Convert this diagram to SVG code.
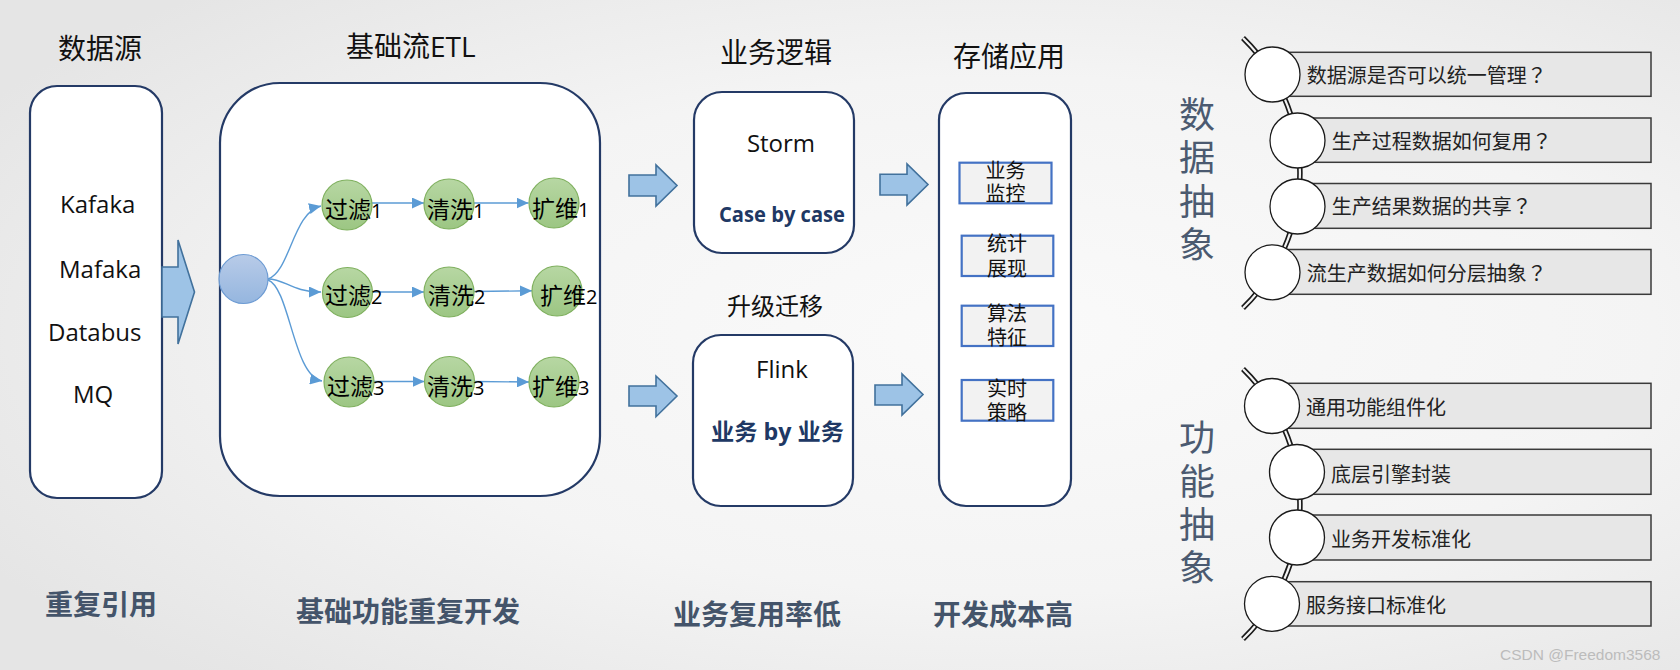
<svg xmlns="http://www.w3.org/2000/svg" width="1680" height="670" viewBox="0 0 1680 670">
<defs>
  <radialGradient id="bg" cx="0.6" cy="0.5" r="0.7">
    <stop offset="0" stop-color="#fafafa"/>
    <stop offset="0.55" stop-color="#f4f4f4"/>
    <stop offset="1" stop-color="#e5e5e5"/>
  </radialGradient>
  <linearGradient id="green" x1="0" y1="0" x2="0" y2="1">
    <stop offset="0" stop-color="#b7d7a3"/>
    <stop offset="1" stop-color="#9cc683"/>
  </linearGradient>
  <linearGradient id="blue" x1="0" y1="0" x2="0" y2="1">
    <stop offset="0" stop-color="#b8cbe8"/>
    <stop offset="1" stop-color="#95b6df"/>
  </linearGradient>
  <marker id="ah" markerUnits="userSpaceOnUse" markerWidth="13" markerHeight="11" refX="12" refY="5.5" orient="auto">
    <path d="M0,0 L12,5.5 L0,11 z" fill="#5b9bd5"/>
  </marker>
  <style>
    .box{fill:#fff;stroke:#243a66;stroke-width:2.2}
    .title{font-family:"Open Sans","Noto Sans CJK SC",sans-serif;font-size:28px;fill:#111}
    .lat{font-family:"Open Sans","Noto Sans CJK SC",sans-serif;font-size:24px;fill:#111}
    .blue{font-family:"Open Sans","Noto Sans CJK SC",sans-serif;font-weight:bold;fill:#203864}
    .foot{font-family:"Noto Sans CJK SC",sans-serif;font-weight:bold;font-size:28px;fill:#44546a}
    .blk{fill:#9dc3e6;stroke:#41719c;stroke-width:1.6}
    .conn{fill:none;stroke:#5b9bd5;stroke-width:1.4}
    .gn{fill:url(#green);stroke:#7fb05e;stroke-width:1.2}
    .nl{font-family:"Noto Sans CJK SC",sans-serif;font-size:23px;fill:#000}
    .nd{font-family:"Open Sans",sans-serif;font-size:20px}
    .sbox{fill:#f2f2f2;stroke:#4472c4;stroke-width:2.2}
    .st{font-family:"Noto Sans CJK SC",sans-serif;font-size:20px;fill:#111;text-anchor:middle}
    .vt{font-family:"Noto Sans CJK SC",sans-serif;font-size:36px;fill:#4b5a70;writing-mode:vertical-rl}
    .bar{fill:#e7e7e7;stroke:#3a3a3a;stroke-width:1.5}
    .ring{fill:#fff;stroke:#1a1a1a;stroke-width:1.3}
    .bt{font-family:"Noto Sans CJK SC",sans-serif;font-size:20px;fill:#222}
    .q{font-family:"Noto Sans CJK JP",sans-serif}
    .sp1{fill:none;stroke:#1a1a1a;stroke-width:5.5}
    .sp2{fill:none;stroke:#f4f4f4;stroke-width:2.2}
  </style>
</defs>
<rect x="0" y="0" width="1680" height="670" fill="url(#bg)"/>

<g id="titles">
  <text class="title" x="58" y="59">数据源</text>
  <text class="title" x="346" y="57">基础流ETL</text>
  <text class="title" x="720" y="63">业务逻辑</text>
  <text class="title" x="953" y="67">存储应用</text>
  <text class="title" x="727" y="315" style="font-size:24px">升级迁移</text>
</g>

<g id="datasource">
  <rect class="box" x="30" y="86" width="132" height="412" rx="27"/>
  <text class="lat" x="60" y="213">Kafaka</text>
  <text class="lat" x="59" y="278">Mafaka</text>
  <text class="lat" x="48" y="340.5">Databus</text>
  <text class="lat" x="73" y="402.5">MQ</text>
</g>

<g id="etl">
  <rect class="box" x="220" y="83" width="380" height="413" rx="60"/>
</g>

<g id="storm">
  <rect class="box" x="694" y="92" width="160" height="161" rx="28"/>
  <text class="lat" x="781" y="151.5" text-anchor="middle">Storm</text>
  <text class="blue" x="719" y="222" font-size="21" textLength="126" lengthAdjust="spacingAndGlyphs">Case by case</text>
</g>

<g id="flink">
  <rect class="box" x="693" y="335" width="160" height="171" rx="28"/>
  <text class="lat" x="782" y="378" text-anchor="middle">Flink</text>
  <text class="blue" x="711" y="440" font-size="23" textLength="133" lengthAdjust="spacingAndGlyphs">业务 by 业务</text>
</g>

<g id="storage">
  <rect class="box" x="939" y="93" width="132" height="413" rx="27"/>
  <g id="s1">
    <rect class="sbox" x="959.5" y="162.7" width="92" height="40.6"/>
    <text class="st"><tspan x="1005.5" y="178">业务</tspan><tspan x="1005.5" y="201">监控</tspan></text>
  </g>
  <g id="s2">
    <rect class="sbox" x="961.7" y="235.7" width="91.6" height="40.3"/>
    <text class="st"><tspan x="1007" y="251">统计</tspan><tspan x="1007" y="276">展现</tspan></text>
  </g>
  <g id="s3">
    <rect class="sbox" x="961.7" y="305.7" width="91.6" height="40.3"/>
    <text class="st"><tspan x="1007" y="321">算法</tspan><tspan x="1007" y="344.5">特征</tspan></text>
  </g>
  <g id="s4">
    <rect class="sbox" x="961.7" y="380" width="91.6" height="40.7"/>
    <text class="st"><tspan x="1007" y="396">实时</tspan><tspan x="1007" y="419.5">策略</tspan></text>
  </g>
</g>

<g id="footers">
  <text class="foot" x="45" y="615">重复引用</text>
  <text class="foot" x="296" y="622">基础功能重复开发</text>
  <text class="foot" x="673" y="625">业务复用率低</text>
  <text class="foot" x="933" y="625">开发成本高</text>
</g>

<g id="data-abstraction">
  <text class="vt" x="1197" y="96" letter-spacing="7.5">数据抽象</text>
  <path class="sp1" d="M1243,38 A188.5,188.5 0 0 1 1243,308"/>
  <path class="sp2" d="M1243,38 A188.5,188.5 0 0 1 1243,308"/>
  <g id="q1">
    <rect class="bar" x="1272" y="52.3" width="379" height="44"/>
    <circle class="ring" cx="1272.5" cy="74.5" r="27.5"/>
    <text class="bt" x="1306.7" y="83.3">数据源是否可以统一管理<tspan class="q">？</tspan></text>
  </g>
  <g id="q2">
    <rect class="bar" x="1297" y="118" width="354" height="44.3"/>
    <circle class="ring" cx="1297.5" cy="140.5" r="27.5"/>
    <text class="bt" x="1331.7" y="149">生产过程数据如何复用<tspan class="q">？</tspan></text>
  </g>
  <g id="q3">
    <rect class="bar" x="1297" y="183.5" width="354" height="44.8"/>
    <circle class="ring" cx="1297.5" cy="206.5" r="27.5"/>
    <text class="bt" x="1331.7" y="214.3">生产结果数据的共享<tspan class="q">？</tspan></text>
  </g>
  <g id="q4">
    <rect class="bar" x="1272" y="249.5" width="379" height="44.8"/>
    <circle class="ring" cx="1272.5" cy="272.3" r="27.5"/>
    <text class="bt" x="1306.7" y="280.7">流生产数据如何分层抽象<tspan class="q">？</tspan></text>
  </g>
</g>

<g id="function-abstraction">
  <text class="vt" x="1197" y="419.6" letter-spacing="7.3">功能抽象</text>
  <path class="sp1" d="M1243,369 A188.5,188.5 0 0 1 1243,639"/>
  <path class="sp2" d="M1243,369 A188.5,188.5 0 0 1 1243,639"/>
  <g id="f1">
    <rect class="bar" x="1272" y="383.3" width="379" height="45"/>
    <circle class="ring" cx="1272" cy="406" r="27.5"/>
    <text class="bt" x="1306" y="415">通用功能组件化</text>
  </g>
  <g id="f2">
    <rect class="bar" x="1297" y="449.3" width="354" height="45"/>
    <circle class="ring" cx="1297" cy="472" r="27.5"/>
    <text class="bt" x="1331" y="481.7">底层引擎封装</text>
  </g>
  <g id="f3">
    <rect class="bar" x="1297" y="515" width="354" height="45"/>
    <circle class="ring" cx="1297" cy="537.5" r="27.5"/>
    <text class="bt" x="1331" y="546.7">业务开发标准化</text>
  </g>
  <g id="f4">
    <rect class="bar" x="1272" y="581.7" width="379" height="44.3"/>
    <circle class="ring" cx="1272" cy="603.8" r="27.5"/>
    <text class="bt" x="1306" y="613.3">服务接口标准化</text>
  </g>
</g>

<g id="connectors">
  <polygon class="blk" points="162,267 178,267 178,240 194.5,292 178,344 178,317 162,317"/>
  <polygon class="blk" points="629,175 656,175 656,165 677,185.5 656,206 656,196 629,196"/>
  <polygon class="blk" points="880,174.3 907,174.3 907,164 928,184.5 907,205 907,195 880,195"/>
  <polygon class="blk" points="629,386 656,386 656,376 677,396 656,416.7 656,406 629,406"/>
  <polygon class="blk" points="875,385 902,385 902,374 923,394.5 902,415 902,405 875,405"/>
  <path class="conn" marker-end="url(#ah)" d="M268,279 C290,272 293,212 321,206"/>
  <path class="conn" marker-end="url(#ah)" d="M268,279 C285,279 292,292 321,292"/>
  <path class="conn" marker-end="url(#ah)" d="M268,280 C290,288 293,376 322,381"/>
  <path class="conn" marker-end="url(#ah)" d="M372,203 L424,203"/>
  <path class="conn" marker-end="url(#ah)" d="M474,203 L528.5,203"/>
  <path class="conn" marker-end="url(#ah)" d="M372.5,292 L424,292"/>
  <path class="conn" marker-end="url(#ah)" d="M474,291.5 L532,290.8"/>
  <path class="conn" marker-end="url(#ah)" d="M374,381.5 L424.5,381.5"/>
  <path class="conn" marker-end="url(#ah)" d="M474.5,381.5 L529,382"/>
</g>

<g id="etl-nodes">
  <g id="src"><circle cx="243.5" cy="279" r="24.5" fill="url(#blue)" stroke="#6d9bd3" stroke-width="1.2"/></g>
  <g id="n-f1"><circle class="gn" cx="347" cy="205" r="25"/><text class="nl" x="325" y="218">过滤<tspan class="nd">1</tspan></text></g>
  <g id="n-c1"><circle class="gn" cx="449" cy="204" r="25"/><text class="nl" x="427" y="217.5">清洗<tspan class="nd">1</tspan></text></g>
  <g id="n-e1"><circle class="gn" cx="554" cy="203" r="25"/><text class="nl" x="532" y="216.5">扩维<tspan class="nd">1</tspan></text></g>
  <g id="n-f2"><circle class="gn" cx="347.5" cy="292.5" r="25"/><text class="nl" x="325" y="304">过滤<tspan class="nd">2</tspan></text></g>
  <g id="n-c2"><circle class="gn" cx="449" cy="292" r="25"/><text class="nl" x="428" y="304">清洗<tspan class="nd">2</tspan></text></g>
  <g id="n-e2"><circle class="gn" cx="557" cy="291" r="25"/><text class="nl" x="540" y="303.5">扩维<tspan class="nd">2</tspan></text></g>
  <g id="n-f3"><circle class="gn" cx="349" cy="382" r="25"/><text class="nl" x="327" y="395">过滤<tspan class="nd">3</tspan></text></g>
  <g id="n-c3"><circle class="gn" cx="449.5" cy="381.5" r="25"/><text class="nl" x="427" y="394.5">清洗<tspan class="nd">3</tspan></text></g>
  <g id="n-e3"><circle class="gn" cx="554" cy="382" r="25"/><text class="nl" x="532" y="395">扩维<tspan class="nd">3</tspan></text></g>
</g>

<text x="1500" y="660" font-family="Liberation Sans, sans-serif" font-size="15.5" fill="#bcbcbc">CSDN @Freedom3568</text>
</svg>
